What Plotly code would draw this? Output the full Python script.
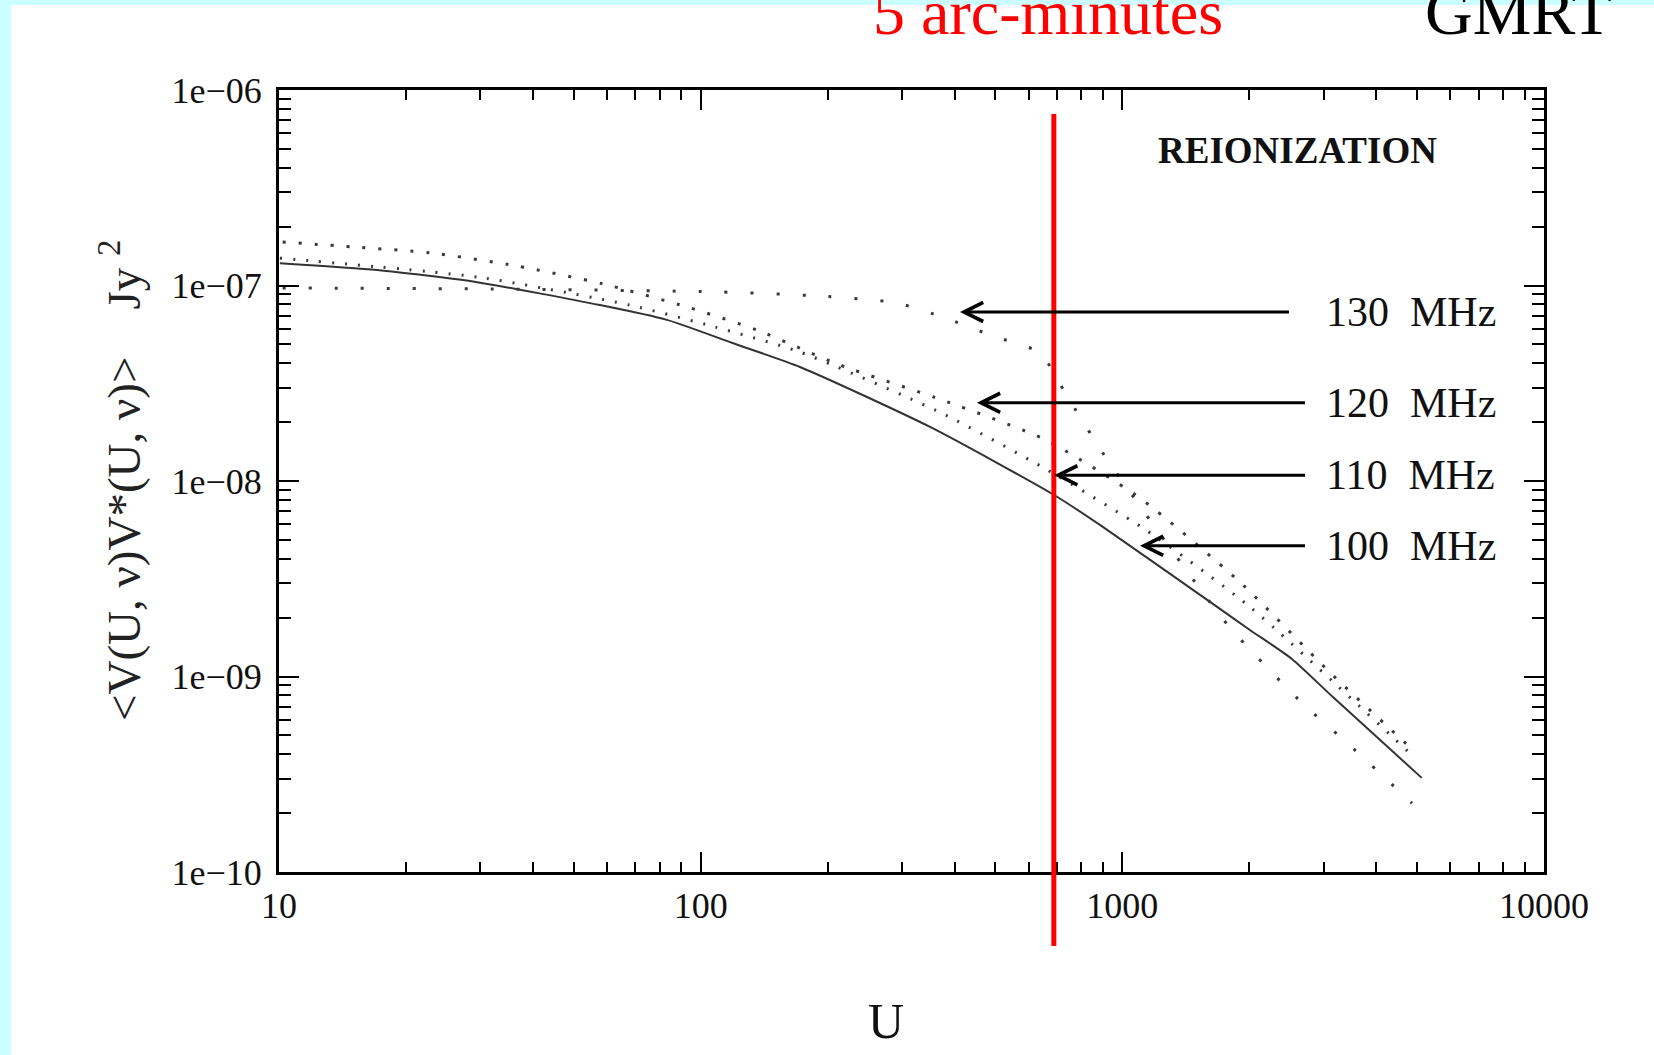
import math
import plotly.graph_objects as go

# Visibility correlation <V(U,nu) V*(U,nu)> (Jy^2) against baseline U, one curve per frequency
u_100 = [10.05, 17.1, 29.5, 57.7, 83.2, 119, 172, 350, 689, 885, 1605, 2007, 2524, 3158, 5129]
v_100 = [1.30e-7, 1.20e-7, 1.04e-7, 7.94e-8, 6.67e-8, 5.08e-8, 3.83e-8, 1.89e-8,
         8.48e-9, 5.96e-9, 2.43e-9, 1.73e-9, 1.23e-9, 7.85e-10, 3.03e-10]

u_110 = [10.05, 30.0, 67.9, 108, 172, 372, 659, 1138, 2007, 4943]
v_110 = [1.38e-7, 1.10e-7, 7.94e-8, 6.14e-8, 4.57e-8, 2.23e-8, 1.15e-8, 5.61e-9,
         2.27e-9, 3.83e-10]

u_120 = [10.2, 15.3, 22.8, 36.6, 58.6, 92.8, 136, 214, 379, 659, 1101, 1901, 3105, 4887]
v_120 = [1.67e-7, 1.57e-7, 1.47e-7, 1.26e-7, 1.02e-7, 7.77e-8, 5.92e-8, 3.92e-8,
         2.57e-8, 1.62e-8, 8.18e-9, 3.04e-9, 1.05e-9, 4.21e-10]

u_130 = [10.2, 33.4, 110.5, 192, 292, 380, 493, 638, 739, 929, 1780, 2624, 3581, 4863]
v_130 = [9.71e-8, 9.59e-8, 9.27e-8, 8.83e-8, 8.14e-8, 6.82e-8, 5.52e-8, 4.52e-8,
         2.72e-8, 1.25e-8, 1.83e-9, 7.59e-10, 4.16e-10, 2.25e-10]

# Frequency labels and the curve point each arrow indicates
freq_labels = ["100  MHz", "110  MHz", "120  MHz", "130  MHz"]
arrow_u = [1101, 689, 452, 412]
arrow_v = [4.66e-9, 1.07e-8, 2.51e-8, 7.32e-8]

# Baseline corresponding to an angular scale of 5 arc-minutes
u_5arcmin = 688

x_ticks = [10, 100, 1000, 10000]
x_ticktext = ["10", "100", "1000", "10000"]
y_ticks = [1e-10, 1e-9, 1e-8, 1e-7, 1e-6]
y_ticktext = ["1e\u221210", "1e\u221209", "1e\u221208", "1e\u221207", "1e\u221206"]

SERIF = "Liberation Serif"
W, H = 1654, 1055
L, R, T, B = 279, 110, 90, 183
PW, PH = W - L - R, H - T - B


def px_x(px):
    return (px - L) / PW


def px_y(py):
    return 1 - (py - T) / PH


def u_to_px(u):
    return L + (math.log10(u) - 1) / 3 * PW


fig = go.Figure()

styles = [
    (u_100, v_100, dict(color="#333333", width=2, dash="solid")),
    (u_110, v_110, dict(color="#3a3a3a", width=3, dash="2px,11px")),
    (u_120, v_120, dict(color="#3a3a3a", width=3, dash="3px,13px")),
    (u_130, v_130, dict(color="#3a3a3a", width=3, dash="3px,23px")),
]
for u, v, line in styles:
    fig.add_trace(go.Scatter(x=u, y=v, mode="lines", showlegend=False,
                             line=dict(shape="spline", smoothing=0.6, **line),
                             hoverinfo="skip"))

minor_x = [m * 10 ** k for k in range(1, 4) for m in range(2, 10)]
minor_y = [m * 10.0 ** k for k in range(-10, -6) for m in range(2, 10)]

axis_common = dict(
    showline=True, linewidth=3, linecolor="black", mirror="allticks",
    ticks="inside", ticklen=20, tickwidth=2, tickcolor="black",
    showgrid=False, zeroline=False, automargin=False,
    tickfont=dict(family=SERIF, size=36, color="#111111"),
)

fig.update_xaxes(type="log", range=[1, 4], tickmode="array", tickvals=x_ticks,
                 ticktext=x_ticktext, ticklabelstandoff=0,
                 minor=dict(tickmode="array", tickvals=minor_x, ticks="inside",
                            ticklen=10, tickwidth=2, tickcolor="black", showgrid=False),
                 **axis_common)
fig.update_yaxes(type="log", range=[-10, -6], tickmode="array", tickvals=y_ticks,
                 ticktext=y_ticktext, ticklabelstandoff=7,
                 minor=dict(tickmode="array", tickvals=minor_y, ticks="inside",
                            ticklen=12, tickwidth=2, tickcolor="black", showgrid=False),
                 **axis_common)

shapes = [
    # page frame strips
    dict(type="rect", xref="paper", yref="paper", x0=px_x(0), x1=px_x(11),
         y0=px_y(H), y1=px_y(0), fillcolor="#ccffff", line=dict(width=0), layer="below"),
    dict(type="rect", xref="paper", yref="paper", x0=px_x(0), x1=px_x(W),
         y0=px_y(5), y1=px_y(0), fillcolor="#ccffff", line=dict(width=0), layer="below"),
    # 5 arc-minute marker
    dict(type="line", xref="x", yref="paper", x0=u_5arcmin, x1=u_5arcmin,
         y0=px_y(946), y1=px_y(114), line=dict(color="#ff0000", width=5)),
]

# each label sits to the right with a horizontal arrow back to its curve
label_left = 1325
line_ends = [1305, 1305, 1305, 1289]
annotations = []
for lab, au, av, end in zip(freq_labels, arrow_u, arrow_v, line_ends):
    annotations.append(dict(
        x=math.log10(au), y=math.log10(av), xref="x", yref="y",
        text=lab.replace(" ", "\u00a0"), showarrow=True,
        ax=label_left - u_to_px(au), ay=0, axref="pixel", ayref="pixel",
        xanchor="left", yanchor="middle", borderpad=0,
        arrowhead=5, arrowsize=1.25, arrowwidth=3, arrowcolor="black",
        standoff=0, startstandoff=label_left - end,
        font=dict(family=SERIF, size=42, color="#111111")))

annotations += [
    dict(x=px_x(1297), y=px_y(151), xref="paper", yref="paper", showarrow=False,
         text="<b>REIONIZATION</b>", xanchor="center", yanchor="middle",
         font=dict(family=SERIF, size=37, color="#111111")),
    dict(x=px_x(871), y=px_y(50), xref="paper", yref="paper", showarrow=False,
         text="5 arc-minutes", xanchor="left", yanchor="bottom",
         font=dict(family=SERIF, size=64, color="#ff0000")),
    dict(x=px_x(1423), y=px_y(50), xref="paper", yref="paper", showarrow=False,
         text="GMRT", xanchor="left", yanchor="bottom",
         font=dict(family=SERIF, size=66, color="#000000")),
    dict(x=px_x(886), y=px_y(1021), xref="paper", yref="paper", showarrow=False,
         text="U", xanchor="center", yanchor="middle",
         font=dict(family=SERIF, size=50, color="#111111")),
    dict(x=px_x(120), y=px_y(481), xref="paper", yref="paper", showarrow=False,
         text="&lt;V(U,\u00a0\u03bd)V*(U,\u00a0\u03bd)&gt;\u00a0\u00a0\u00a0\u00a0Jy\u00a0<sup>2</sup>",
         textangle=-90, xanchor="center", yanchor="middle",
         font=dict(family=SERIF, size=47, color="#222222")),
]

fig.update_layout(
    width=W, height=H,
    margin=dict(l=L, r=R, t=T, b=B, pad=0),
    paper_bgcolor="white", plot_bgcolor="white",
    shapes=shapes, annotations=annotations,
)

fig.write_html("out.html")
